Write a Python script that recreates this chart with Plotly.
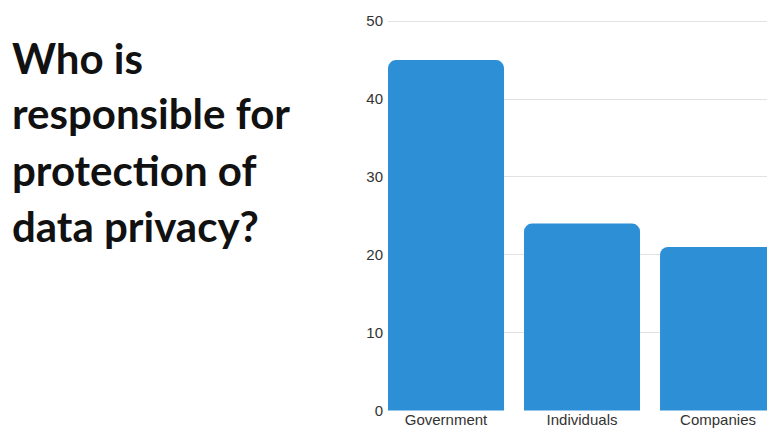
import plotly.graph_objects as go

categories = ["Government", "Individuals", "Companies"]
values = [45, 24, 21]
y_ticks = [0, 10, 20, 30, 40, 50]
title_lines = ["Who is", "responsible for", "protec\u200ction of", "data privacy?"]

W, H = 767, 428
L, R, T, B = 388, 0, 18, 17

fig = go.Figure(
    go.Bar(
        x=categories,
        y=values,
        marker=dict(color="#2D8FD5", line=dict(width=0)),
        hoverinfo="skip",
    )
)

plot_w = W - L - R
plot_h = H - T - B
y_lo, y_hi = -0.06, 50.4


def to_paper_y(px):
    # convert a pixel row of the page to paper coordinates
    return (H - B - px) / plot_h


title_baselines = [75, 130, 187, 243]
for line, base in zip(title_lines, title_baselines):
    fig.add_annotation(
        text=line,
        xref="paper", yref="paper",
        x=(10 - L) / plot_w,
        y=to_paper_y(base),
        xanchor="left", yanchor="bottom",
        showarrow=False,
        font=dict(family="Lato", size=42, color="#111111", weight="bold"),
        yshift=-10,
    )

fig.update_layout(
    template="none",
    width=W, height=H,
    margin=dict(l=L, r=R, t=T, b=B, pad=0),
    paper_bgcolor="white", plot_bgcolor="white",
    bargap=0.147,
    barcornerradius=8,
    showlegend=False,
    font=dict(family="Liberation Sans, Arial", size=15, color="#333333"),
    xaxis=dict(
        range=[-0.4265, 2.36],
        showgrid=False, zeroline=False, showline=False,
        ticks="", automargin=False, fixedrange=True,
        ticklabelstandoff=-2,
        tickfont=dict(size=15, color="#333333"),
    ),
    yaxis=dict(
        range=[y_lo, y_hi],
        tickvals=y_ticks,
        showgrid=True, gridcolor="#E2E2E2", gridwidth=1,
        zeroline=False, showline=False,
        ticks="", automargin=False, fixedrange=True,
        ticklabelstandoff=4,
        tickfont=dict(size=15, color="#333333"),
    ),
)

fig.write_html(
    "out.html",
    config={"displayModeBar": False},
    post_script="document.body.style.margin='0';document.body.style.overflow='hidden';",
)
